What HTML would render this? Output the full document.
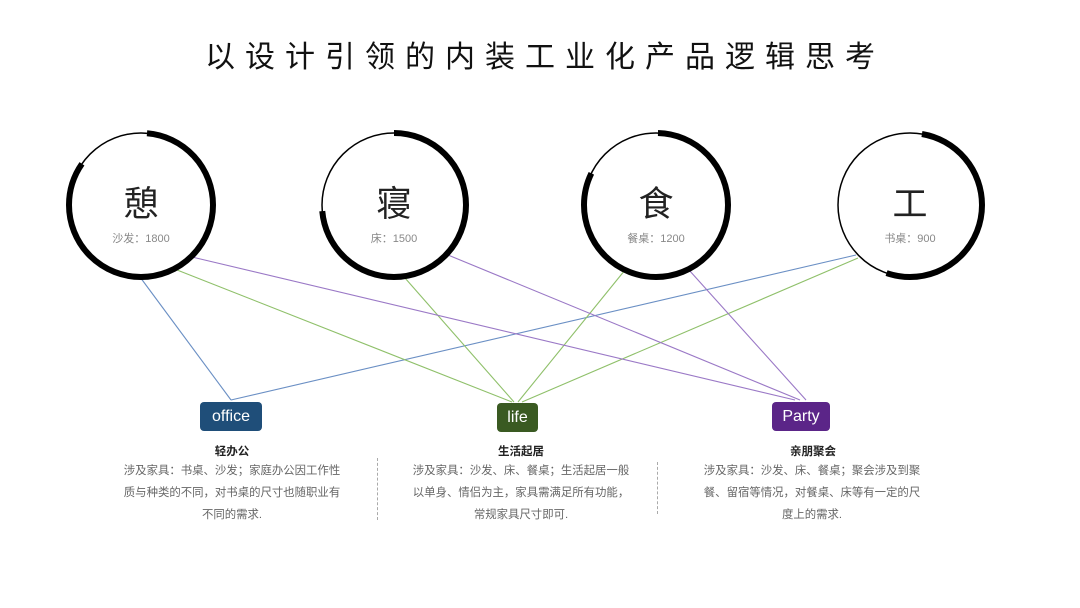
<!DOCTYPE html>
<html><head><meta charset="utf-8"><style>
html,body{margin:0;padding:0;background:#fff;}
body{width:1080px;height:608px;position:relative;overflow:hidden;font-family:"Liberation Sans","Noto Sans CJK SC",sans-serif;}
.t{position:absolute;text-align:center;white-space:nowrap;}
.title{left:0;width:1080px;top:32px;font-size:30px;letter-spacing:10px;color:#111;text-indent:10px;}
.box{position:absolute;color:#fff;font-size:16px;text-align:center;line-height:29px;height:29px;border-radius:4px;}
.h{font-size:11.5px;font-weight:bold;color:#222;}
.p{font-size:11.4px;color:#666;line-height:22px;letter-spacing:0;}
.sep{position:absolute;width:0;border-left:1.5px dashed #aaa;}
</style></head><body>
<div class="t title">以设计引领的内装工业化产品逻辑思考</div>
<svg width="1080" height="608" style="position:absolute;left:0;top:0">
<g fill="none" stroke-width="1.1">
<line x1="231" y1="400" x2="140" y2="277" stroke="#6a8fc4"/>
<line x1="231" y1="400" x2="856" y2="255" stroke="#6a8fc4"/>
<line x1="172" y1="268" x2="512" y2="402" stroke="#8fc06a"/>
<line x1="405" y1="278" x2="514" y2="402" stroke="#8fc06a"/>
<line x1="625" y1="270" x2="518" y2="402" stroke="#8fc06a"/>
<line x1="858" y1="258" x2="522" y2="402" stroke="#8fc06a"/>
<line x1="192" y1="257" x2="795" y2="400" stroke="#9a78c6"/>
<line x1="448" y1="255" x2="800" y2="400" stroke="#9a78c6"/>
<line x1="689" y1="270" x2="806" y2="400" stroke="#9a78c6"/>
</g>
<g fill="none" stroke="#000">
<circle cx="141" cy="205" r="72" stroke-width="1.5"/>
<circle cx="141" cy="205" r="72" stroke-width="6" transform="rotate(-90 141 205)" stroke-dasharray="377 500" stroke-dashoffset="-6"/>
<circle cx="394" cy="205" r="72" stroke-width="1.5"/>
<circle cx="394" cy="205" r="72" stroke-width="6" transform="rotate(-90 394 205)" stroke-dasharray="333 500" stroke-dashoffset="0"/>
<circle cx="656" cy="205" r="72" stroke-width="1.5"/>
<circle cx="656" cy="205" r="72" stroke-width="6" transform="rotate(-90 656 205)" stroke-dasharray="370 500" stroke-dashoffset="-2"/>
<circle cx="910" cy="205" r="72" stroke-width="1.5"/>
<circle cx="910" cy="205" r="72" stroke-width="6" transform="rotate(-90 910 205)" stroke-dasharray="238 500" stroke-dashoffset="-12"/>
</g>
</svg>
<div class="t" style="left:91px;width:100px;top:176px;font-size:35px;color:#222">憩</div>
<div class="t" style="left:91px;width:100px;top:230px;font-size:11px;color:#888">沙发：1800</div>
<div class="t" style="left:344px;width:100px;top:176px;font-size:35px;color:#222">寝</div>
<div class="t" style="left:344px;width:100px;top:230px;font-size:11px;color:#888">床：1500</div>
<div class="t" style="left:606px;width:100px;top:176px;font-size:35px;color:#222">食</div>
<div class="t" style="left:606px;width:100px;top:230px;font-size:11px;color:#888">餐桌：1200</div>
<div class="t" style="left:860px;width:100px;top:176px;font-size:35px;color:#222">工</div>
<div class="t" style="left:860px;width:100px;top:230px;font-size:11px;color:#888">书桌：900</div>

<div class="box" style="left:200px;top:402px;width:62px;background:#1f4e79">office</div>
<div class="box" style="left:497px;top:403px;width:41px;background:#3a5a22">life</div>
<div class="box" style="left:772px;top:402px;width:58px;background:#5b2588">Party</div>

<div class="t h" style="left:132px;width:200px;top:443px">轻办公</div>
<div class="t p" style="left:112px;width:240px;top:460px">涉及家具：书桌、沙发；家庭办公因工作性<br>质与种类的不同，对书桌的尺寸也随职业有<br>不同的需求.</div>
<div class="t h" style="left:421px;width:200px;top:443px">生活起居</div>
<div class="t p" style="left:401px;width:240px;top:460px">涉及家具：沙发、床、餐桌；生活起居一般<br>以单身、情侣为主，家具需满足所有功能，<br>常规家具尺寸即可.</div>
<div class="t h" style="left:713px;width:200px;top:443px">亲朋聚会</div>
<div class="t p" style="left:692px;width:240px;top:460px">涉及家具：沙发、床、餐桌；聚会涉及到聚<br>餐、留宿等情况，对餐桌、床等有一定的尺<br>度上的需求.</div>
<div class="sep" style="left:377px;top:458px;height:62px"></div>
<div class="sep" style="left:657px;top:462px;height:52px"></div>
</body></html>
